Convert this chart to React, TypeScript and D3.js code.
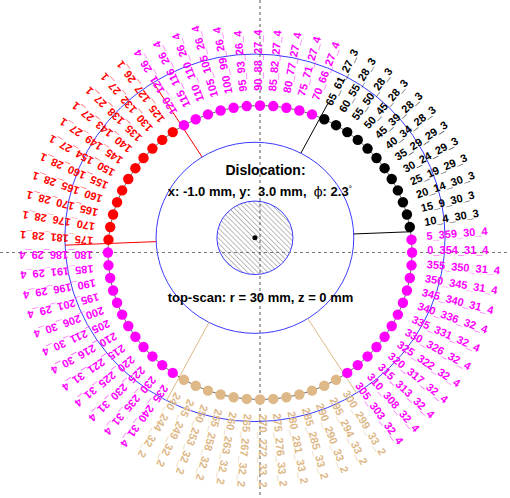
import React from "react";
import * as d3 from "d3";

// Scan positions (deg) around the probe circle
const scanAngles = [
  0, 5, 10, 15, 20, 25, 30, 35, 40, 45, 50, 55, 60, 65, 70, 75, 80, 85,
  90, 95, 100, 105, 110, 115, 120, 125, 130, 135, 140, 145, 150, 155, 160, 165, 170, 175,
  180, 185, 190, 195, 200, 205, 210, 215, 220, 225, 230, 235, 240, 245, 250, 255, 260, 265,
  270, 275, 280, 285, 290, 295, 300, 305, 310, 315, 320, 325, 330, 335, 340, 345, 350, 355,
];
// Angle seen from the dislocated detector frame (deg)
const localAngles = [
  354, 359, 4, 9, 14, 19, 24, 29, 34, 39, 45, 50, 55, 61, 66, 71, 77, 82,
  88, 93, 99, 105, 110, 116, 121, 127, 132, 138, 143, 149, 154, 160, 165, 170, 176, 181,
  186, 191, 196, 201, 206, 211, 216, 221, 225, 230, 235, 240, 244, 249, 253, 258, 263, 267,
  272, 276, 281, 285, 290, 294, 299, 303, 308, 313, 317, 322, 326, 331, 336, 340, 345, 350,
];
// Distance to the detector axis (mm)
const distances = [
  31, 30, 30, 30, 30, 29, 29, 29, 28, 28, 28, 28, 28, 27, 27, 27, 27, 27,
  27, 26, 26, 26, 26, 26, 26, 26, 27, 27, 27, 27, 27, 28, 28, 28, 28, 28,
  29, 29, 29, 29, 30, 30, 30, 31, 31, 31, 31, 31, 32, 32, 32, 32, 32, 32,
  33, 33, 33, 33, 33, 33, 33, 32, 32, 32, 32, 32, 32, 32, 32, 31, 31, 31,
];
// Segment hit (1-4)
const segments = [
  4, 4, 3, 3, 3, 3, 3, 3, 3, 3, 3, 3, 3, 3, 4, 4, 4, 4,
  4, 4, 4, 4, 4, 4, 4, 1, 1, 1, 1, 1, 1, 1, 1, 1, 1, 1,
  4, 4, 4, 4, 4, 4, 4, 4, 4, 4, 4, 4, 2, 2, 2, 2, 2, 2,
  2, 2, 2, 2, 2, 2, 2, 4, 4, 4, 4, 4, 4, 4, 4, 4, 4, 4,
];

// Segment boundaries in the detector frame (deg, before rotation), their segment and reach (mm)
const boundaryAngles = [0, 60, 120, 180, 240, 300];
const boundarySegments = [3, 3, 1, 1, 2, 2];
const boundaryReach = [31, 31, 37.5, 37.5, 37.5, 37.5];

// Dislocation parameters
const dislocX = -1.0;
const dislocY = 3.0;
const dislocPhi = 2.3;
const scanRadius = 30;
const scanZ = 0;

// Detector geometry (mm)
const coreRadius = 7.5;
const innerRadius = 19.5;
const outerRadius = 37.5;
const labelRadius = 33;

const segmentColor: Record<number, string> = {
  1: "#ff0000",
  2: "#deb887",
  3: "#000000",
  4: "#ff00ff",
};

const W = 510;
const H = 498;

export default function App() {
  const x = d3.scaleLinear().domain([-50, 50]).range([260 - 253.5, 260 + 253.5]);
  const y = d3.scaleLinear().domain([-50, 50]).range([252.5 + 245, 252.5 - 245]);
  const kx = x(1) - x(0);
  const ky = y(0) - y(1);
  const rad = (d: number) => (d * Math.PI) / 180;

  const cx = x(dislocX);
  const cy = y(dislocY);

  const pts = scanAngles.map((a, i) => ({
    a,
    px: x(scanRadius * Math.cos(rad(a))),
    py: y(scanRadius * Math.sin(rad(a))),
    lx: x(labelRadius * Math.cos(rad(a))),
    ly: y(labelRadius * Math.sin(rad(a))),
    rot: -(Math.atan2(ky * Math.sin(rad(a)), kx * Math.cos(rad(a))) * 180) / Math.PI,
    color: segmentColor[segments[i]],
    text: `${a}_${localAngles[i]}_${distances[i]}_${segments[i]}`,
  }));

  const ring = d3
    .line<{ px: number; py: number }>()
    .x((d) => d.px)
    .y((d) => d.py)
    .curve(d3.curveLinearClosed);

  return (
    <svg
      width={W}
      height={H}
      style={{ position: "absolute", left: 0, top: 0, background: "#fff" }}
      fontFamily="'Liberation Sans', Arial, Helvetica, sans-serif"
    >
      <defs>
        <pattern
          id="hatch"
          width={3.6}
          height={3.6}
          patternUnits="userSpaceOnUse"
          patternTransform="rotate(-45)"
        >
          <line x1={0} y1={0} x2={0} y2={3.6} stroke="#777" strokeWidth={1} />
        </pattern>
      </defs>

      {/* detector outlines */}
      <ellipse cx={cx} cy={cy} rx={outerRadius * kx} ry={outerRadius * ky} fill="none" stroke="#3b3bff" strokeWidth={1} />
      <ellipse cx={cx} cy={cy} rx={innerRadius * kx} ry={innerRadius * ky} fill="none" stroke="#3b3bff" strokeWidth={1} />
      <ellipse cx={cx} cy={cy} rx={coreRadius * kx} ry={coreRadius * ky} fill="url(#hatch)" stroke="#3b3bff" strokeWidth={1} />

      {/* reference axes */}
      <line x1={0} x2={W} y1={y(0)} y2={y(0)} stroke="#777" strokeDasharray="3,3" strokeWidth={1} />
      <line x1={x(0)} x2={x(0)} y1={0} y2={H} stroke="#555" strokeDasharray="3,3" strokeWidth={1} />

      {/* segment boundaries, rotated by the dislocation angle */}
      {boundaryAngles.map((b, i) => {
        const t = rad(b + dislocPhi);
        return (
          <line
            key={`b${i}`}
            x1={x(dislocX + innerRadius * Math.cos(t))}
            y1={y(dislocY + innerRadius * Math.sin(t))}
            x2={x(dislocX + boundaryReach[i] * Math.cos(t))}
            y2={y(dislocY + boundaryReach[i] * Math.sin(t))}
            stroke={segmentColor[boundarySegments[i]]}
            strokeWidth={1}
          />
        );
      })}

      {/* scan trajectory */}
      <path d={ring(pts) ?? ""} fill="none" stroke="#444" strokeWidth={0.8} />
      {pts.map((p) => (
        <circle key={`d${p.a}`} cx={p.px} cy={p.py} r={5.2} fill={p.color} />
      ))}

      {/* detector centre */}
      <circle cx={cx} cy={cy} r={2.5} fill="#000" />

      {/* scan point labels */}
      {pts.map((p) => (
        <text
          key={`t${p.a}`}
          transform={`translate(${p.lx},${p.ly}) rotate(${p.rot})`}
          dy={1.5}
          fontSize={11}
          fontWeight="bold"
          fill={p.color}
        >
          {p.text}
        </text>
      ))}

      {/* annotations */}
      <text x={265.5} y={174.5} textAnchor="middle" fontSize={14} fontWeight="bold">
        Dislocation:
      </text>
      <text x={260} y={195.5} textAnchor="middle" fontSize={13} fontWeight="bold" xmlSpace="preserve">
        {`x: ${dislocX.toFixed(1)} mm, y:  ${dislocY.toFixed(1)} mm,  `}
        <tspan fontWeight="normal" fontFamily="'DejaVu Serif', serif">ϕ</tspan>
        {`: ${dislocPhi.toFixed(1)}`}
        <tspan fontSize={9} fontWeight="normal" dy={-4}>°</tspan>
      </text>
      <text x={260.5} y={301.5} textAnchor="middle" fontSize={13} fontWeight="bold">
        {`top-scan: r = ${scanRadius} mm, z = ${scanZ} mm`}
      </text>
    </svg>
  );
}
